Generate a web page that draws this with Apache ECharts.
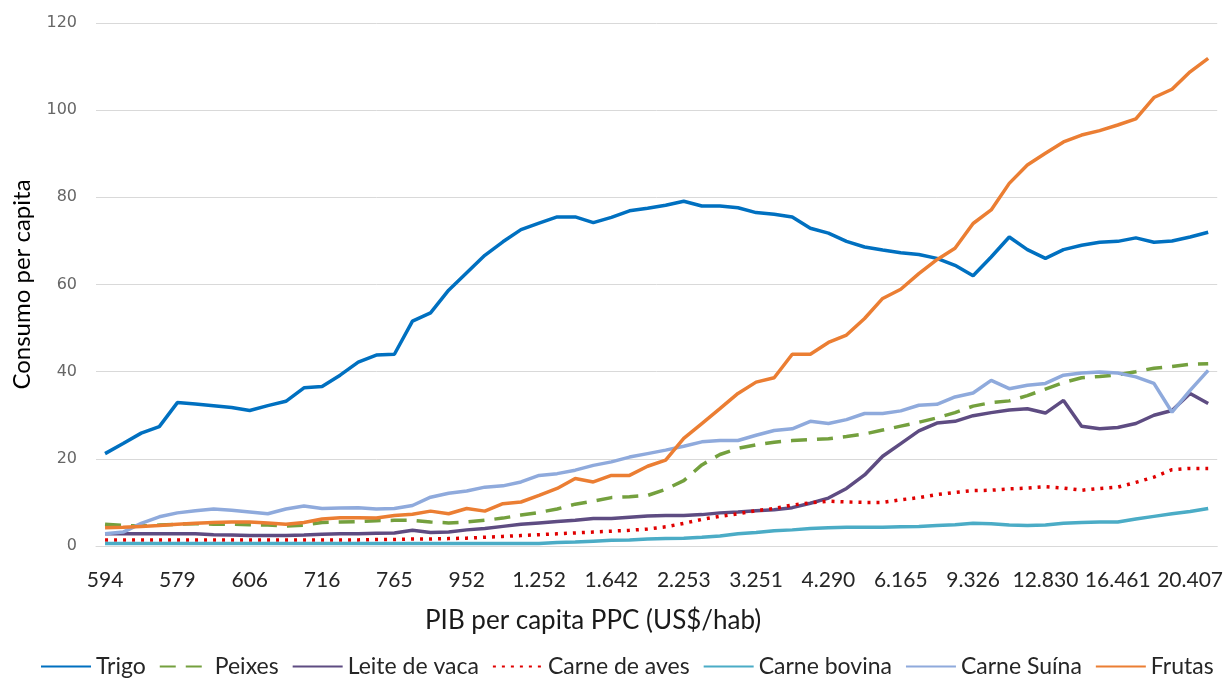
<!DOCTYPE html>
<html>
<head>
<meta charset="utf-8">
<script src="https://cdn.jsdelivr.net/npm/echarts@6/dist/echarts.min.js"></script>
<style>
  html, body { margin: 0; padding: 0; background: #fff; }
  #chart { width: 1226px; height: 680px; }
</style>
</head>
<body>
<div id="chart"></div>
<script>
// tick labels shown under every 4th point (PIB per capita PPC)
const tickLabels = ["594", "579", "606", "716", "765", "952", "1.252", "1.642",
  "2.253", "3.251", "4.290", "6.165", "9.326", "12.830", "16.461", "20.407"];
const pointCount = 62;

const trigo = [21.2, 23.5, 25.9, 27.4, 32.9, 32.6, 32.2, 31.8, 31.1, 32.2,
  33.2, 36.3, 36.6, 39.2, 42.2, 43.8, 44.0, 51.6, 53.5, 58.7,
  62.7, 66.7, 69.8, 72.6, 74.1, 75.5, 75.5, 74.2, 75.4, 76.9,
  77.5, 78.2, 79.1, 78.0, 78.0, 77.6, 76.5, 76.1, 75.5, 72.9,
  71.8, 69.9, 68.6, 67.9, 67.3, 66.9, 66.0, 64.4, 62.0, 66.3,
  70.9, 68.0, 66.0, 68.0, 69.0, 69.7, 69.9, 70.7, 69.7, 70.0,
  70.9, 72.0];
const peixes = [5.0, 4.7, 4.6, 4.8, 5.0, 5.1, 5.0, 5.0, 4.9, 4.8,
  4.6, 4.8, 5.4, 5.5, 5.6, 5.8, 5.9, 5.9, 5.5, 5.3,
  5.5, 5.9, 6.4, 7.1, 7.7, 8.5, 9.6, 10.3, 11.1, 11.3,
  11.6, 13.0, 15.0, 18.6, 21.0, 22.4, 23.2, 23.8, 24.2, 24.4,
  24.6, 25.1, 25.7, 26.6, 27.5, 28.4, 29.4, 30.6, 32.1, 32.9,
  33.3, 34.5, 36.0, 37.5, 38.6, 38.9, 39.3, 40.0, 40.8, 41.2,
  41.7, 41.8];
const leite = [2.8, 2.8, 2.8, 2.8, 2.8, 2.8, 2.6, 2.5, 2.4, 2.4,
  2.4, 2.5, 2.7, 2.8, 2.8, 2.9, 3.0, 3.6, 3.1, 3.2,
  3.7, 4.0, 4.5, 5.0, 5.3, 5.6, 5.9, 6.3, 6.3, 6.6,
  6.9, 7.0, 7.0, 7.2, 7.6, 7.8, 8.1, 8.3, 8.8, 9.8,
  11.0, 13.2, 16.3, 20.6, 23.5, 26.4, 28.2, 28.6, 29.9, 30.6,
  31.2, 31.5, 30.5, 33.4, 27.5, 26.9, 27.2, 28.1, 30.0, 31.1,
  35.0, 32.7];
const aves = [1.4, 1.4, 1.4, 1.4, 1.4, 1.4, 1.4, 1.4, 1.4, 1.4,
  1.4, 1.4, 1.4, 1.4, 1.4, 1.5, 1.5, 1.6, 1.6, 1.7,
  1.8, 2.0, 2.2, 2.4, 2.6, 2.8, 3.0, 3.2, 3.4, 3.6,
  3.9, 4.4, 5.2, 6.1, 6.8, 7.4, 8.1, 8.6, 9.4, 9.9,
  10.3, 10.1, 10.0, 10.0, 10.6, 11.1, 11.8, 12.3, 12.7, 12.8,
  13.1, 13.3, 13.6, 13.3, 12.8, 13.2, 13.5, 14.6, 15.8, 17.5,
  17.8, 17.8];
const bovina = [0.6, 0.6, 0.6, 0.6, 0.6, 0.6, 0.6, 0.6, 0.6, 0.6,
  0.6, 0.6, 0.6, 0.6, 0.6, 0.6, 0.6, 0.6, 0.6, 0.6,
  0.6, 0.6, 0.6, 0.6, 0.6, 0.8, 0.9, 1.1, 1.3, 1.4,
  1.6, 1.7, 1.8, 2.0, 2.3, 2.8, 3.1, 3.5, 3.7, 4.0,
  4.2, 4.3, 4.3, 4.3, 4.4, 4.5, 4.7, 4.9, 5.2, 5.1,
  4.8, 4.7, 4.8, 5.2, 5.4, 5.5, 5.5, 6.2, 6.8, 7.4,
  7.9, 8.6];
const suina = [2.8, 3.2, 5.2, 6.7, 7.6, 8.1, 8.5, 8.2, 7.8, 7.4,
  8.5, 9.2, 8.6, 8.7, 8.8, 8.5, 8.6, 9.3, 11.2, 12.1,
  12.6, 13.5, 13.8, 14.7, 16.2, 16.6, 17.4, 18.5, 19.3, 20.4,
  21.2, 22.0, 22.9, 23.9, 24.2, 24.2, 25.4, 26.5, 26.9, 28.6,
  28.1, 29.0, 30.4, 30.4, 31.0, 32.3, 32.5, 34.2, 35.1, 38.0,
  36.1, 36.9, 37.3, 39.2, 39.7, 39.9, 39.7, 38.8, 37.3, 30.7,
  35.7, 40.3];
const frutas = [4.2, 4.3, 4.5, 4.7, 5.0, 5.2, 5.4, 5.5, 5.5, 5.3,
  5.0, 5.4, 6.2, 6.5, 6.5, 6.4, 7.0, 7.3, 8.0, 7.4,
  8.6, 8.0, 9.7, 10.1, 11.6, 13.2, 15.5, 14.7, 16.2, 16.2,
  18.3, 19.7, 24.7, 28.1, 31.5, 35.0, 37.6, 38.6, 44.0, 44.0,
  46.7, 48.4, 52.2, 56.8, 58.9, 62.5, 65.7, 68.3, 74.0, 77.1,
  83.2, 87.4, 90.1, 92.7, 94.3, 95.3, 96.6, 98.0, 102.9, 104.8,
  108.8, 111.9];

const categories = [];
for (let i = 0; i < pointCount; i++) {
  categories.push(i % 4 === 0 && tickLabels[i / 4] !== undefined ? tickLabels[i / 4] : "");
}

const font = "Lato";

function line(name, data, color, type) {
  return {
    name: name,
    type: "line",
    data: data,
    symbol: "none",
    lineStyle: { color: color, width: 3.5, type: type || "solid", cap: "butt" },
    itemStyle: { color: color },
    emphasis: { disabled: true }
  };
}

const chart = echarts.init(document.getElementById("chart"), null, { renderer: "canvas" });
chart.setOption({
  animation: false,
  backgroundColor: "#fff",
  textStyle: { fontFamily: font },
  grid: { left: 96, right: 5, top: 23, bottom: 134 },
  legend: {
    top: 650,
    left: 35,
    itemWidth: 50,
    itemHeight: 4,
    itemGap: 13,
    itemStyle: { opacity: 0 },
    textStyle: { fontFamily: font, fontSize: 23, color: "#262626" },
    data: ["Trigo", "Peixes", "Leite de vaca", "Carne de aves", "Carne bovina", "Carne Suína", "Frutas"]
  },
  xAxis: {
    type: "category",
    data: categories,
    boundaryGap: true,
    axisLine: { show: true, lineStyle: { color: "#d9d9d9", width: 1 } },
    axisTick: { show: false },
    axisLabel: { interval: 0, margin: 24, fontFamily: font, fontSize: 21, color: "#262626" },
    name: "PIB per capita PPC (US$/hab)",
    nameLocation: "middle",
    nameGap: 62,
    nameTextStyle: { fontFamily: font, fontSize: 26, color: "#1a1a1a", padding: [0, 127, 0, 0] }
  },
  yAxis: {
    type: "value",
    min: 0,
    max: 120,
    interval: 20,
    axisLine: { show: false },
    axisTick: { show: false },
    splitLine: { lineStyle: { color: "#d9d9d9", width: 1 } },
    axisLabel: { margin: 19, fontFamily: "DejaVu Sans", fontSize: 16, color: "#666666" },
    name: "Consumo per capita",
    nameLocation: "middle",
    nameRotate: 90,
    nameGap: 62,
    nameTextStyle: { fontFamily: font, fontSize: 24, color: "#000" }
  },
  series: [
    line("Trigo", trigo, "#0070C0"),
    line("Peixes", peixes, "#74A03E", [16, 10]),
    line("Leite de vaca", leite, "#5E4C82"),
    line("Carne de aves", aves, "#E00000", [3, 6]),
    line("Carne bovina", bovina, "#4BACC6"),
    line("Carne Suína", suina, "#8FAADC"),
    line("Frutas", frutas, "#EB7E33")
  ]
});
</script>
</body>
</html>
